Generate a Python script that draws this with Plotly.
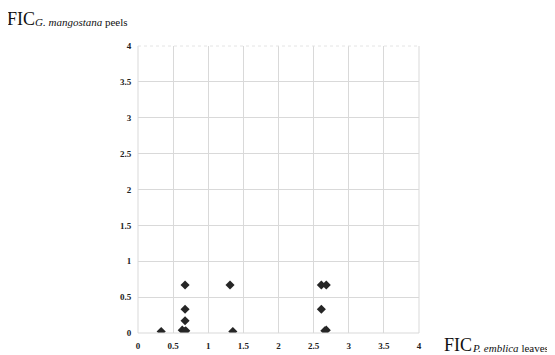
import plotly.graph_objects as go

# FIC values
fic_emblica = [0.33, 0.63, 0.66, 0.68, 0.67, 0.67, 0.67, 1.31, 1.35, 2.61, 2.68, 2.61, 2.66, 2.68]
fic_mangostana = [0.02, 0.04, 0.02, 0.03, 0.17, 0.33, 0.67, 0.67, 0.02, 0.67, 0.67, 0.33, 0.03, 0.04]

tick_vals = [0, 0.5, 1, 1.5, 2, 2.5, 3, 3.5, 4]
tick_text = ["0", "0.5", "1", "1.5", "2", "2.5", "3", "3.5", "4"]

axis_main = "FIC"
x_sub = "<i>P. emblica</i> leaves"
y_sub = "<i>G. mangostana</i> peels"

serif = "Liberation Serif"
grid = "#d9d9d9"

# page has an 8px body margin; figure sized so it ends at the window edge
W, H = 547, 347
ML, MR, MT, MB = 130, 136, 38, 22
PW, PH = W - ML - MR, H - MT - MB


def fx(px):  # figure pixel x -> paper
    return (px - ML) / PW


def fy(py):  # figure pixel y (from top) -> paper
    return (MT + PH - py) / PH


fig = go.Figure()
fig.add_trace(go.Scatter(
    x=fic_emblica, y=fic_mangostana, mode="markers",
    marker=dict(symbol="diamond", size=7, color="#262626", line=dict(width=0)),
    showlegend=False, hoverinfo="skip",
))

axis_common = dict(
    range=[0, 4], tickmode="array", tickvals=tick_vals, ticktext=tick_text,
    showgrid=True, gridcolor=grid, gridwidth=1,
    zeroline=False, showline=False, automargin=False,
    ticks="outside", ticklen=4, tickcolor="rgba(0,0,0,0)",
    tickfont=dict(family=serif, size=9, color="#222", weight="bold"),
    fixedrange=True,
)

big = dict(family=serif, size=18, color="#111")
small = dict(family=serif, size=11, color="#111")

fig.update_layout(
    width=W, height=H,
    margin=dict(l=ML, r=MR, t=MT, b=MB, autoexpand=False),
    paper_bgcolor="white", plot_bgcolor="white",
    xaxis=axis_common,
    yaxis=axis_common,
    font=dict(family=serif, color="#111"),
    annotations=[
        dict(text=axis_main, xref="paper", yref="paper", x=fx(-3), y=fy(11.5),
             xanchor="left", yanchor="middle", showarrow=False, font=big),
        dict(text=y_sub, xref="paper", yref="paper", x=fx(25), y=fy(14.5),
             xanchor="left", yanchor="middle", showarrow=False, font=small),
        dict(text=axis_main, xref="paper", yref="paper", x=fx(434), y=fy(MT + PH + 11.5),
             xanchor="left", yanchor="middle", showarrow=False, font=big),
        dict(text=x_sub, xref="paper", yref="paper", x=fx(462), y=fy(MT + PH + 14.5),
             xanchor="left", yanchor="middle", showarrow=False, font=small),
    ],
)

# Plot frame edges as grid-colored lines
fig.add_shape(type="line", xref="paper", yref="paper", x0=0, x1=0, y0=0, y1=1,
              line=dict(color=grid, width=1))
fig.add_shape(type="line", xref="paper", yref="paper", x0=0, x1=1, y0=0, y1=0,
              line=dict(color=grid, width=1))
fig.add_shape(type="line", xref="paper", yref="paper", x0=1, x1=1, y0=0, y1=1,
              line=dict(color=grid, width=1))
fig.add_shape(type="line", xref="paper", yref="paper", x0=0, x1=1, y0=1, y1=1,
              line=dict(color="#e4e4e4", width=1, dash="dot"))

fig.write_html("out.html")
